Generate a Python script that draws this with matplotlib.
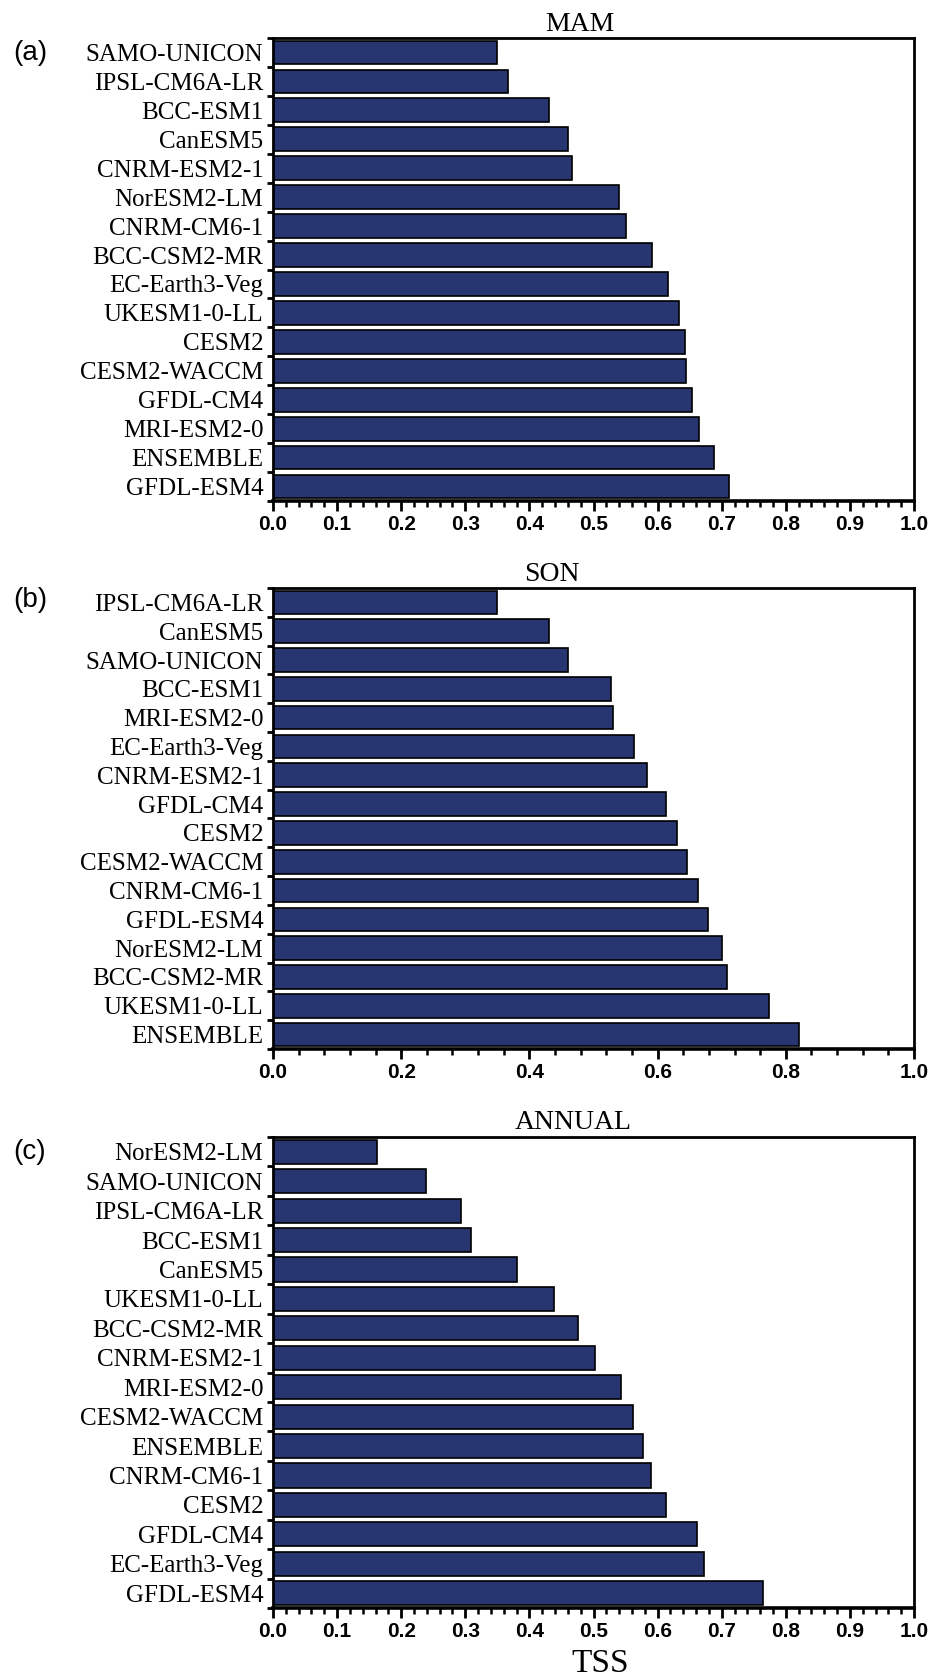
import matplotlib
matplotlib.use("Agg")
import matplotlib.pyplot as plt
import numpy as np

# TSS scores per model, listed top to bottom as they appear in each panel
mam_models = ['SAMO-UNICON', 'IPSL-CM6A-LR', 'BCC-ESM1', 'CanESM5', 'CNRM-ESM2-1',
              'NorESM2-LM', 'CNRM-CM6-1', 'BCC-CSM2-MR', 'EC-Earth3-Veg', 'UKESM1-0-LL',
              'CESM2', 'CESM2-WACCM', 'GFDL-CM4', 'MRI-ESM2-0', 'ENSEMBLE', 'GFDL-ESM4']
mam_tss = [0.350, 0.366, 0.430, 0.460, 0.467, 0.540, 0.550, 0.591, 0.617, 0.634,
           0.642, 0.644, 0.653, 0.665, 0.688, 0.711]

son_models = ['IPSL-CM6A-LR', 'CanESM5', 'SAMO-UNICON', 'BCC-ESM1', 'MRI-ESM2-0',
              'EC-Earth3-Veg', 'CNRM-ESM2-1', 'GFDL-CM4', 'CESM2', 'CESM2-WACCM',
              'CNRM-CM6-1', 'GFDL-ESM4', 'NorESM2-LM', 'BCC-CSM2-MR', 'UKESM1-0-LL', 'ENSEMBLE']
son_tss = [0.350, 0.431, 0.460, 0.527, 0.530, 0.563, 0.584, 0.613, 0.631, 0.646,
           0.663, 0.679, 0.701, 0.709, 0.774, 0.820]

ann_models = ['NorESM2-LM', 'SAMO-UNICON', 'IPSL-CM6A-LR', 'BCC-ESM1', 'CanESM5',
              'UKESM1-0-LL', 'BCC-CSM2-MR', 'CNRM-ESM2-1', 'MRI-ESM2-0', 'CESM2-WACCM',
              'ENSEMBLE', 'CNRM-CM6-1', 'CESM2', 'GFDL-CM4', 'EC-Earth3-Veg', 'GFDL-ESM4']
ann_tss = [0.162, 0.238, 0.293, 0.309, 0.380, 0.439, 0.476, 0.502, 0.543, 0.561,
           0.578, 0.590, 0.613, 0.662, 0.673, 0.765]

BAR_COLOR = '#273670'
W, H = 941, 1676

fig = plt.figure(figsize=(W / 100, H / 100), dpi=100)


def px_box(top, bottom, left=273, right=914):
    return [left / W, 1 - bottom / H, (right - left) / W, (bottom - top) / H]


def bar_panel(box, models, values, major, minor):
    ax = fig.add_axes(box)
    n = len(models)
    y = np.arange(n)
    ax.barh(y, values, height=0.82, color=BAR_COLOR, edgecolor='black', linewidth=1.2)
    ax.set_ylim(n - 0.5, -0.5)
    ax.set_xlim(0, 1.0)

    ax.set_yticks(y)
    ax.set_yticklabels(models, fontsize=18, family='Liberation Serif')
    ax.set_yticks(np.arange(n + 1) - 0.5, minor=True)
    ax.tick_params(axis='y', which='major', length=0, pad=7)
    ax.tick_params(axis='y', which='minor', direction='out', length=4, width=2)

    ax.set_xticks(np.arange(0, 1.0001, major))
    ax.set_xticks(np.arange(0, 1.0001, minor), minor=True)
    ax.set_xticklabels(['%.1f' % v for v in np.arange(0, 1.0001, major)],
                       fontsize=15, fontweight='bold', family='Liberation Sans')
    ax.tick_params(axis='x', which='major', direction='out', length=7, width=2, pad=3)
    ax.tick_params(axis='x', which='minor', direction='out', length=4, width=1.8)

    for side in ['top', 'right', 'left']:
        ax.spines[side].set_linewidth(2.0)
    ax.spines['bottom'].set_linewidth(2.6)
    return ax


bar_panel(px_box(38, 501), mam_models, mam_tss, 0.1, 0.02)
bar_panel(px_box(588, 1049), son_models, son_tss, 0.2, 0.04)
bar_panel(px_box(1137, 1608), ann_models, ann_tss, 0.1, 0.02)

serif = 'Liberation Serif'
fig.text(580 / W, 1 - 31 / H, 'MAM', ha='center', va='baseline', fontsize=20, family=serif)
fig.text(552 / W, 1 - 581 / H, 'SON', ha='center', va='baseline', fontsize=20, family=serif)
fig.text(573 / W, 1 - 1129 / H, 'ANNUAL', ha='center', va='baseline', fontsize=20, family=serif)
fig.text(600 / W, 1 - 1672 / H, 'TSS', ha='center', va='baseline', fontsize=24, family=serif)

for letter, yc in [('(a)', 53), ('(b)', 600), ('(c)', 1152)]:
    fig.text(30 / W, 1 - yc / H, letter, ha='center', va='center', fontsize=20,
             family='Liberation Sans')

fig.savefig('out.png', dpi=100, facecolor='white')
